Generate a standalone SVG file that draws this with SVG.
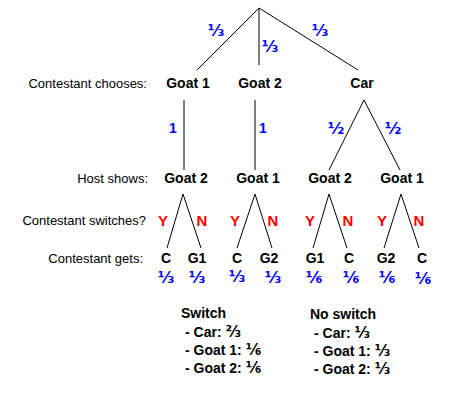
<svg xmlns="http://www.w3.org/2000/svg" width="453" height="417" viewBox="0 0 453 417">
<style>
.bg{fill:#fff}
.lbl{font-family:"Liberation Sans",Arial,sans-serif;font-size:13px;fill:#000;text-anchor:end}
.node{font-family:"Liberation Sans",Arial,sans-serif;font-size:14px;font-weight:bold;fill:#000;text-anchor:middle}
.p{font-family:"Liberation Sans","DejaVu Sans",Arial,sans-serif;font-size:14px;font-weight:bold;fill:#0000ff;text-anchor:middle}
.f{font-family:"DejaVu Sans","Liberation Sans",sans-serif;font-size:16px;font-weight:bold;fill:#0000ff;text-anchor:middle}
.yn{font-family:"Liberation Sans",Arial,sans-serif;font-size:15px;font-weight:bold;fill:#ff0000;text-anchor:middle}
.sum{font-family:"Liberation Sans","DejaVu Sans",Arial,sans-serif;font-size:14px;font-weight:bold;fill:#000}
.sf{font-family:"DejaVu Sans","Liberation Sans",sans-serif;font-size:15px}
.e{stroke:#000;stroke-width:1;fill:none}
</style>
<rect class="bg" x="0" y="0" width="453" height="417"/>
<g id="connectors">
<path class="e" d="M259,8 L197,70 M259,8 L259,65 M259,8 L358,70"/>
<path class="e" d="M184,100 L184,170 M255,100 L255,170 M364,100 L329,170 M364,100 L400,170"/>
<path class="e" d="M183,194 L167,248 M183,194 L201,248 M255,194 L237,248 M255,194 L272,248 M329,194 L313,248 M329,194 L347,248 M401,194 L384,248 M401,194 L419,248"/>
</g>
<g id="edge-labels">
<text class="f" x="216" y="36">⅓</text>
<text class="f" x="270" y="52">⅓</text>
<text class="f" x="320" y="36">⅓</text>
<text class="p" x="173" y="133">1</text>
<text class="p" x="263" y="133">1</text>
<text class="f" x="336" y="134">½</text>
<text class="f" x="393" y="134">½</text>
<text class="yn" x="163" y="226">Y</text>
<text class="yn" x="202" y="226">N</text>
<text class="yn" x="235" y="226">Y</text>
<text class="yn" x="273" y="226">N</text>
<text class="yn" x="310" y="226">Y</text>
<text class="yn" x="348" y="226">N</text>
<text class="yn" x="382" y="226">Y</text>
<text class="yn" x="419" y="226">N</text>
</g>
<g id="row-labels">
<text class="lbl" x="147" y="88">Contestant chooses:</text>
<text class="lbl" x="148" y="183">Host shows:</text>
<text class="lbl" x="146" y="225">Contestant switches?</text>
<text class="lbl" x="143" y="263">Contestant gets:</text>
</g>
<g id="choose-goat1"><text class="node" x="188" y="88">Goat 1</text></g>
<g id="choose-goat2"><text class="node" x="260" y="88">Goat 2</text></g>
<g id="choose-car"><text class="node" x="362" y="88">Car</text></g>
<g id="host-a"><text class="node" x="186" y="183">Goat 2</text></g>
<g id="host-b"><text class="node" x="258" y="183">Goat 1</text></g>
<g id="host-c"><text class="node" x="330" y="183">Goat 2</text></g>
<g id="host-d"><text class="node" x="402" y="183">Goat 1</text></g>
<g id="get-1"><text class="node" x="166" y="263">C</text><text class="f" x="166" y="283">⅓</text></g>
<g id="get-2"><text class="node" x="197" y="263">G1</text><text class="f" x="197" y="283">⅓</text></g>
<g id="get-3"><text class="node" x="237" y="263">C</text><text class="f" x="237" y="282">⅓</text></g>
<g id="get-4"><text class="node" x="269" y="263">G2</text><text class="f" x="273" y="283">⅓</text></g>
<g id="get-5"><text class="node" x="315" y="263">G1</text><text class="f" x="314" y="283">⅙</text></g>
<g id="get-6"><text class="node" x="349" y="263">C</text><text class="f" x="351" y="283">⅙</text></g>
<g id="get-7"><text class="node" x="386" y="263">G2</text><text class="f" x="387" y="283">⅙</text></g>
<g id="get-8"><text class="node" x="422" y="263">C</text><text class="f" x="423" y="284">⅙</text></g>
<g id="summary-switch">
<text class="sum" x="181" y="318">Switch</text>
<text class="sum" x="185" y="337">- Car: <tspan class="sf">⅔</tspan></text>
<text class="sum" x="185" y="355">- Goat 1: <tspan class="sf">⅙</tspan></text>
<text class="sum" x="185" y="373">- Goat 2: <tspan class="sf">⅙</tspan></text>
</g>
<g id="summary-noswitch">
<text class="sum" x="310" y="319">No switch</text>
<text class="sum" x="314" y="338">- Car: <tspan class="sf">⅓</tspan></text>
<text class="sum" x="314" y="356">- Goat 1: <tspan class="sf">⅓</tspan></text>
<text class="sum" x="314" y="374">- Goat 2: <tspan class="sf">⅓</tspan></text>
</g>
</svg>
